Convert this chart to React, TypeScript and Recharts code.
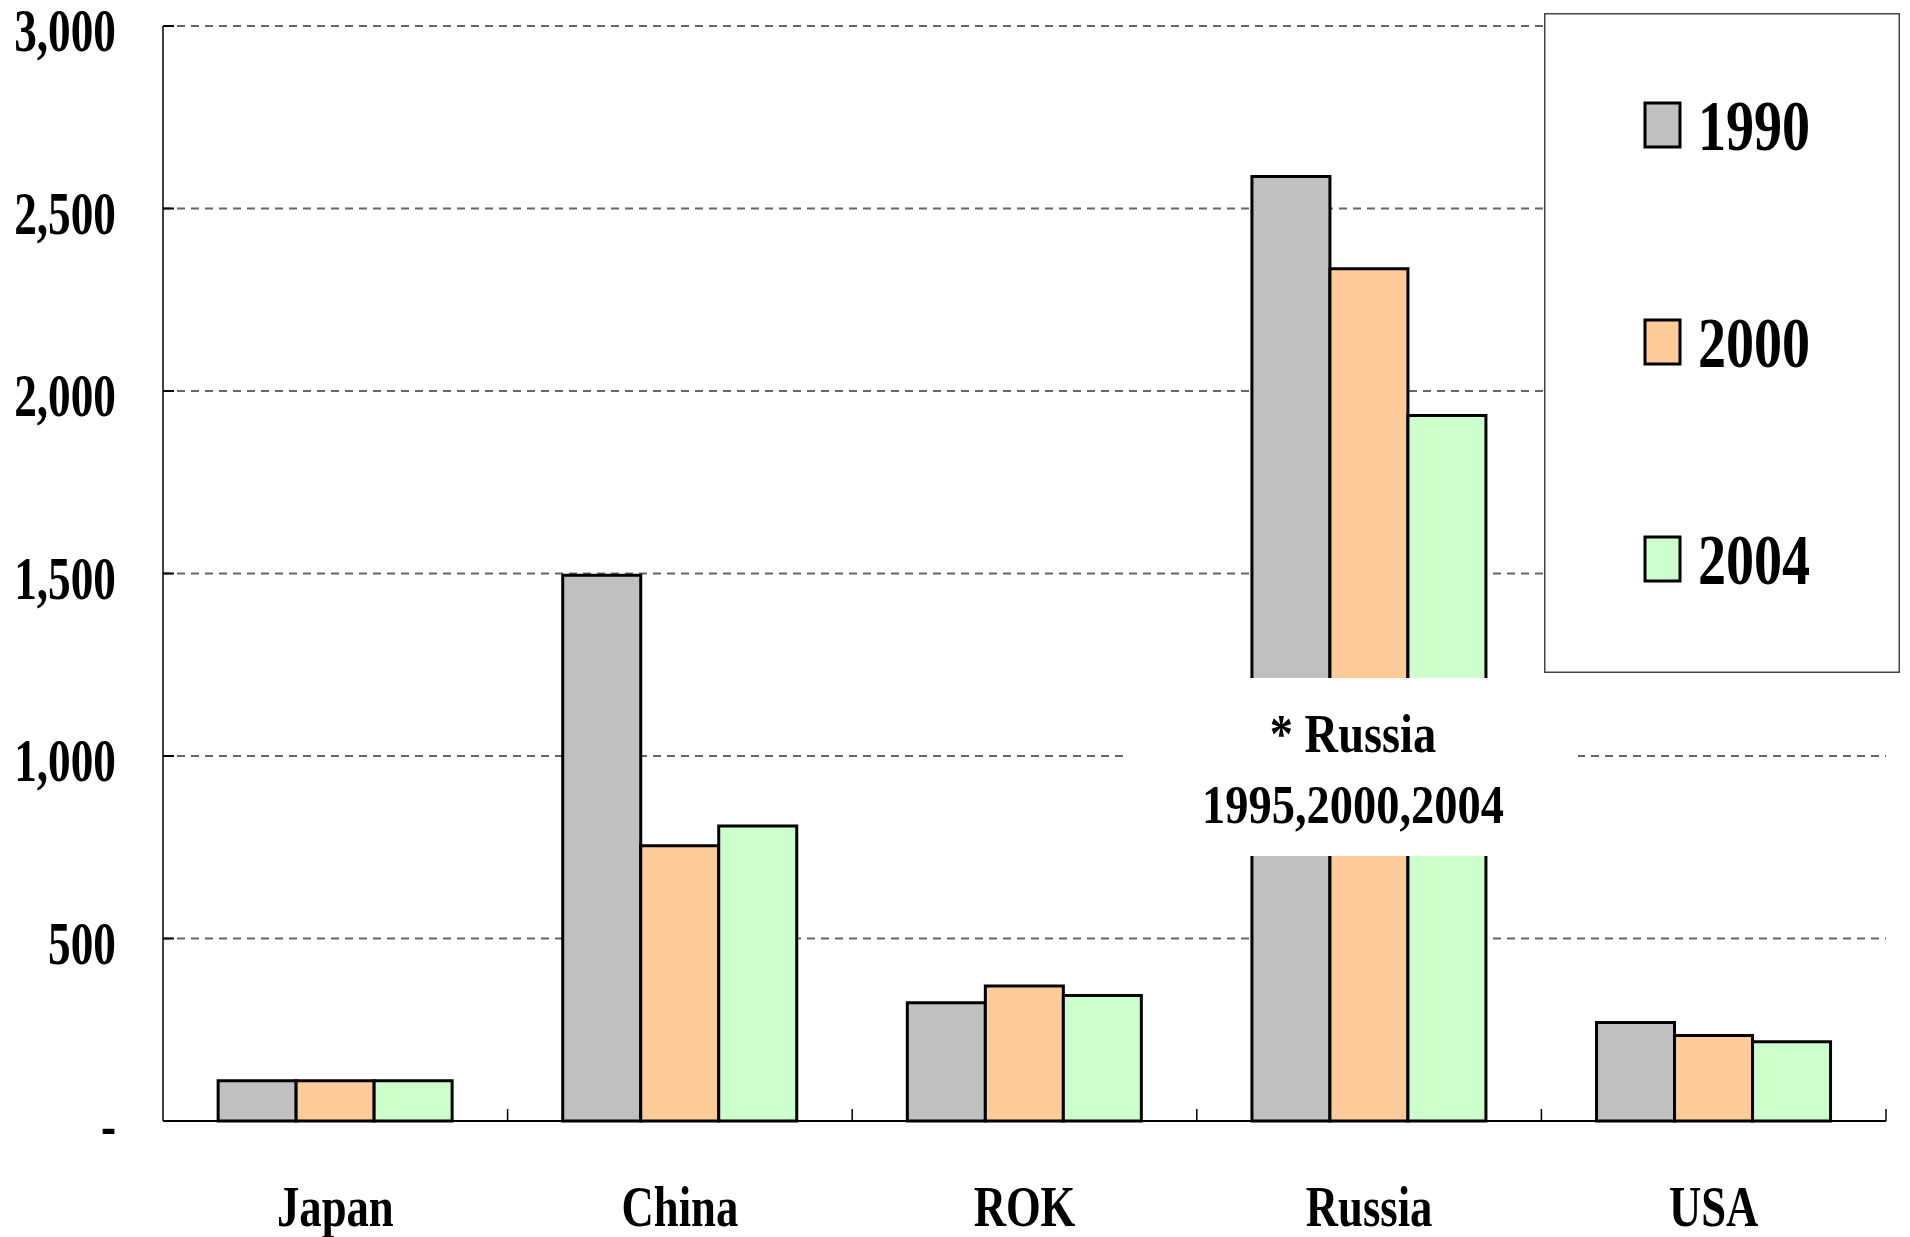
import React from 'react';
import { BarChart, Bar, XAxis, YAxis, CartesianGrid, Legend } from 'recharts';

const countries = ['Japan', 'China', 'ROK', 'Russia', 'USA'];
const values1990 = [110, 1495, 324, 2588, 270];
const values2000 = [110, 754, 370, 2335, 234];
const values2004 = [110, 808, 344, 1933, 217];

const seriesNames = ['1990', '2000', '2004'];
const seriesKeys = ['y1990', 'y2000', 'y2004'];
const seriesColors = ['#C0C0C0', '#FFCC99', '#CCFFCC'];

const yTicks = [0, 500, 1000, 1500, 2000, 2500, 3000];
const noteLines = ['* Russia', '1995,2000,2004'];

const FONT = '"Liberation Serif", "Times New Roman", serif';

const data = countries.map((country, i) => ({
  country,
  y1990: values1990[i],
  y2000: values2000[i],
  y2004: values2004[i],
}));

const formatValue = (v: number) =>
  v === 0 ? '-' : String(v).replace(/\B(?=(\d{3})+(?!\d))/g, ',');

// tall, narrow lettering like the original; short inward tick at each gridline
const YTick = ({ x, y, payload }: any) => (
  <g>
    <line x1={x} x2={x + 11} y1={y} y2={y} stroke="#000" strokeWidth={2} />
    <text
      transform={`translate(116,${y + 25}) scale(0.73,1)`}
      textAnchor="end"
      fontFamily={FONT}
      fontWeight="bold"
      fontSize={62}
      fill="#000"
    >
      {formatValue(payload.value)}
    </text>
  </g>
);

// category label plus an inward tick on the right boundary of its band
const XTick = ({ x, y, payload }: any) => {
  const edge = x + (payload.offset || 0);
  return (
    <g>
      <line x1={edge} x2={edge} y1={y} y2={y - 12} stroke="#000" strokeWidth={1.5} />
      <text
        transform={`translate(${x},${y + 105}) scale(0.77,1)`}
        textAnchor="middle"
        fontFamily={FONT}
        fontWeight="bold"
        fontSize={58}
        fill="#000"
      >
        {payload.value}
      </text>
    </g>
  );
};

const LegendBox = () => (
  <svg width={356} height={660} style={{ display: 'block' }}>
    <rect x={0.75} y={0.75} width={354.5} height={658.5} fill="#fff" stroke="#444" strokeWidth={1.5} />
    {seriesNames.map((name, i) => (
      <g key={name}>
        <rect
          x={101}
          y={90 + 217 * i}
          width={35}
          height={44}
          fill={seriesColors[i]}
          stroke="#000"
          strokeWidth={3}
        />
        <text
          transform={`translate(154,${137 + 217 * i}) scale(0.79,1)`}
          fontFamily={FONT}
          fontWeight="bold"
          fontSize={71}
          fill="#000"
        >
          {name}
        </text>
      </g>
    ))}
  </svg>
);

const App: React.FC = () => {
  return (
    <div style={{ position: 'absolute', left: 0, top: 0, width: 1910, height: 1237, background: '#fff' }}>
      <BarChart
        width={1910}
        height={1237}
        data={data}
        margin={{ top: 26, right: 24, bottom: 0, left: 0 }}
        barGap={0}
        barCategoryGap="16%"
      >
        <CartesianGrid
          vertical={false}
          stroke="#666"
          strokeWidth={1.8}
          strokeDasharray="8 6"
        />
        <XAxis
          dataKey="country"
          height={116}
          axisLine={{ stroke: '#000', strokeWidth: 2 }}
          tickLine={false}
          tickSize={0}
          tickMargin={0}
          tick={<XTick />}
          interval={0}
        />
        <YAxis
          width={163}
          domain={[0, 3000]}
          ticks={yTicks}
          axisLine={{ stroke: '#000', strokeWidth: 1.5 }}
          tickLine={false}
          tickSize={0}
          tickMargin={0}
          tick={<YTick />}
          interval={0}
        />
        <Legend
          layout="vertical"
          align="center"
          verticalAlign="middle"
          content={<LegendBox />}
          wrapperStyle={{ position: 'absolute', left: 1544, top: 13, width: 356, height: 660, margin: 0, padding: 0, lineHeight: 0 }}
        />
        {seriesKeys.map((key, i) => (
          <Bar
            key={key}
            dataKey={key}
            name={seriesNames[i]}
            fill={seriesColors[i]}
            stroke="#000"
            strokeWidth={3}
            isAnimationActive={false}
          />
        ))}
      </BarChart>
      <div
        style={{ position: 'absolute', left: 1123, top: 678, width: 455, height: 178, background: '#fff' }}
      >
        <svg width={455} height={178} style={{ display: 'block' }}>
          {noteLines.map((line, i) => (
            <text
              key={line}
              transform={`translate(230,${74 + 71 * i}) scale(0.86,1)`}
              textAnchor="middle"
              fontFamily={FONT}
              fontWeight="bold"
              fontSize={54}
              fill="#000"
            >
              {line}
            </text>
          ))}
        </svg>
      </div>
    </div>
  );
};

export default App;
